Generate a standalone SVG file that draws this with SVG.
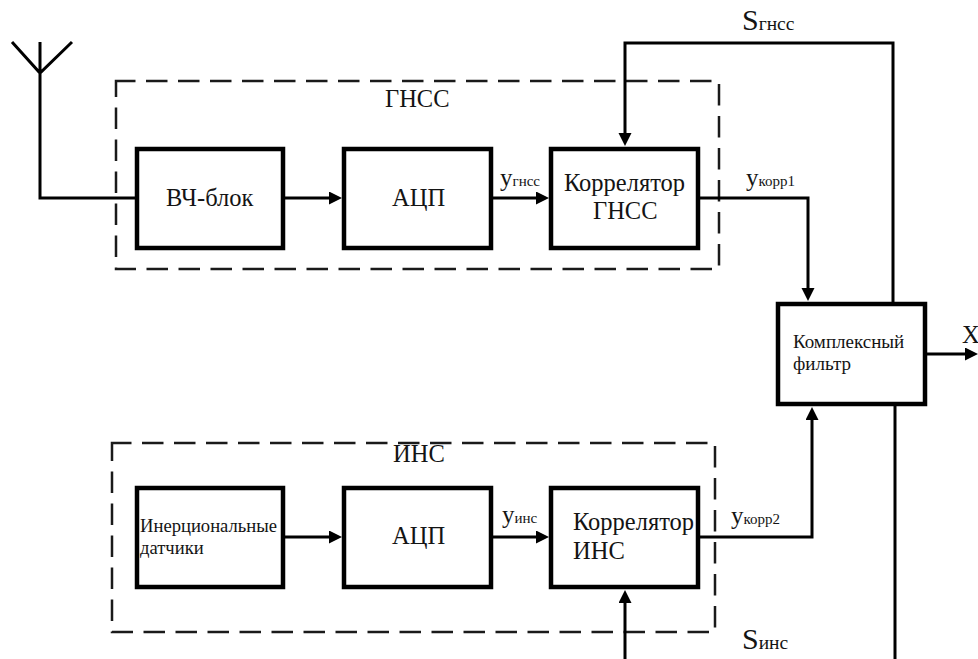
<svg xmlns="http://www.w3.org/2000/svg" width="978" height="659" viewBox="0 0 978 659">
<style>
text{font-family:"Liberation Serif","Times New Roman",serif;fill:#141414}
.box{fill:#fff;stroke:#000;stroke-width:4.5}
.dash{fill:none;stroke:#1a1a1a;stroke-width:2.5;stroke-dasharray:21.5 10.5;stroke-dashoffset:2}
.c{fill:none;stroke:#000;stroke-width:3;stroke-linejoin:miter}
.a{marker-end:url(#arrow)}
.t{font-size:24.5px}
.f{font-size:19px}
.s{font-size:18.6px}
.y{font-size:25px}
.sub{font-size:15px}
.S{font-size:30px}
.Ssub{font-size:19.5px}
</style>
<defs>
<marker id="arrow" markerUnits="userSpaceOnUse" markerWidth="14" markerHeight="14" refX="8" refY="6.5" orient="auto">
<path d="M0 0L13 6.5L0 13Z" fill="#000"/>
</marker>
</defs>
<rect width="978" height="659" fill="#fff"/>
<g id="gnss-group"><path class="dash" d="M116 81H719V269H116Z"/><text class="t" x="385" y="107">ГНСС</text></g>
<g id="ins-group"><path class="dash" d="M112 443H715V632H112Z"/><text class="t" x="393" y="462">ИНС</text></g>
<g id="connectors">
<path class="c" d="M12 42L40 73L72 42M40 42V198H136"/>
<path class="c a" d="M285 198H337"/>
<path class="c a" d="M493 198H544"/>
<path class="c a" d="M893 302V43H625V141"/>
<path class="c a" d="M700 198H808V296"/>
<path class="c a" d="M927 354H973"/>
<path class="c a" d="M700 537H812V412"/>
<path class="c a" d="M285 537H337"/>
<path class="c a" d="M493 537H544"/>
<path class="c a" d="M625 659V595"/>
<path class="c" d="M895 406V659"/>
</g>
<g id="hf-block"><rect class="box" x="137" y="149" width="146" height="99"/><text class="t" x="166" y="206">ВЧ-блок</text></g>
<g id="adc-1"><rect class="box" x="344" y="149" width="147" height="99"/><text class="t" x="392" y="206">АЦП</text></g>
<g id="corr-gnss"><rect class="box" x="551" y="149" width="147" height="99"/><text class="t" x="564" y="191">Коррелятор</text><text class="t" x="593" y="219">ГНСС</text></g>
<g id="filter"><rect class="box" x="778" y="304" width="147" height="100"/><text class="f" x="793" y="348">Комплексный</text><text class="f" x="793" y="370">фильтр</text></g>
<g id="sensors"><rect class="box" x="137" y="488" width="146" height="99"/><text class="s" x="140" y="532">Инерциональные</text><text class="s" x="140" y="554">датчики</text></g>
<g id="adc-2"><rect class="box" x="344" y="488" width="147" height="99"/><text class="t" x="392" y="544">АЦП</text></g>
<g id="corr-ins"><rect class="box" x="551" y="488" width="147" height="99"/><text class="t" x="573" y="530">Коррелятор</text><text class="t" x="573" y="559">ИНС</text></g>
<g id="labels">
<text class="y" x="500" y="186">у<tspan class="sub">гнсс</tspan></text>
<text class="y" x="746" y="186">у<tspan class="sub">корр1</tspan></text>
<text class="y" x="502" y="523">у<tspan class="sub">инс</tspan></text>
<text class="y" x="731" y="524">у<tspan class="sub">корр2</tspan></text>
<text class="S" x="742" y="30">S<tspan class="Ssub">гнсс</tspan></text>
<text class="S" x="742" y="649">S<tspan class="Ssub">инс</tspan></text>
<text class="t" x="962" y="343">X</text>
</g>
</svg>
